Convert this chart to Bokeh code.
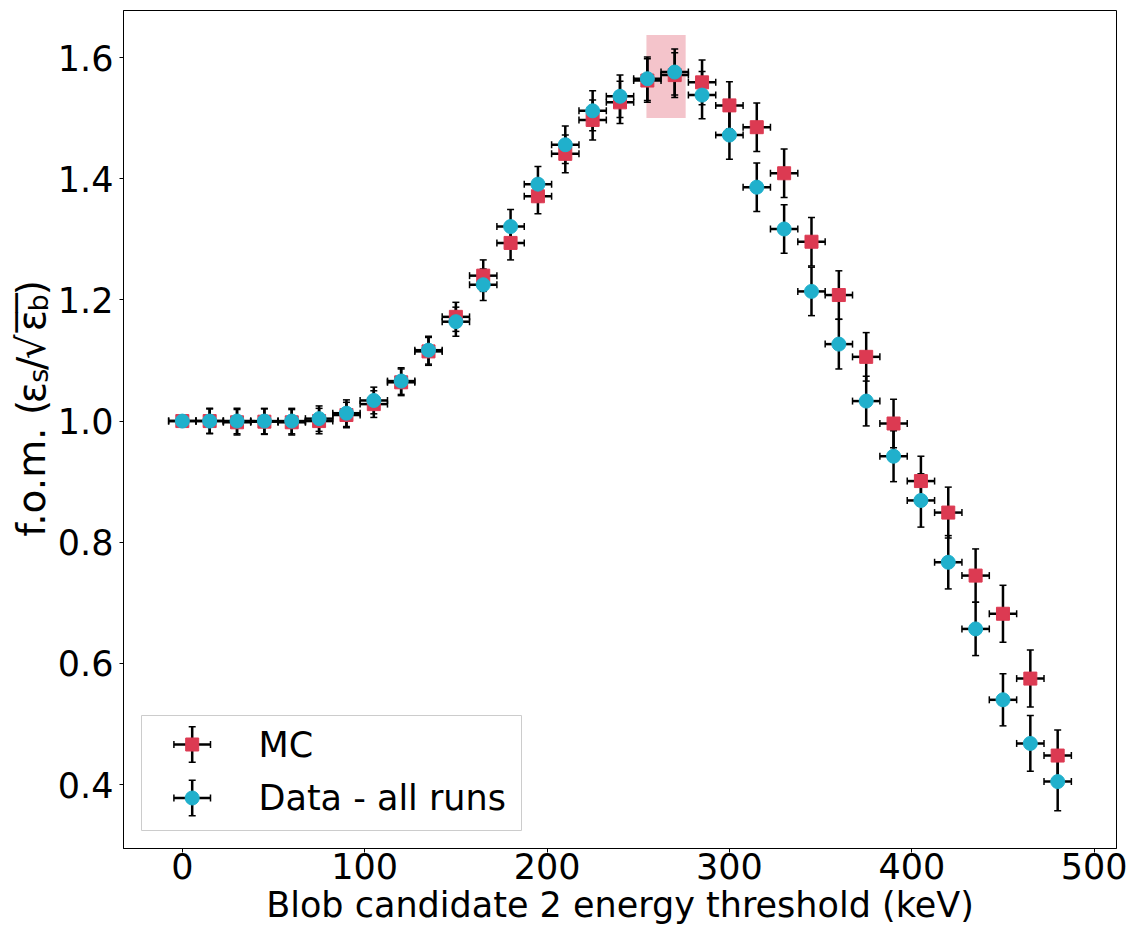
from math import pi
from bokeh.plotting import figure
from bokeh.models import (ColumnDataSource, Whisker, TeeHead, Range1d,
                          FixedTicker, PrintfTickFormatter)
from bokeh.layouts import row
from bokeh.embed import file_html
from bokeh.resources import INLINE
from bokeh.core.properties import value

# ---------------- data ----------------
threshold_kev = [0, 15, 30, 45, 60, 75, 90, 105, 120, 135, 150, 165, 180, 195,
                 210, 225, 240, 255, 270, 285, 300, 315, 330, 345, 360, 375,
                 390, 405, 420, 435, 450, 465, 480]
fom_mc = [1.000, 1.000, 0.998, 0.999, 0.998, 1.000, 1.010, 1.028, 1.064,
          1.115, 1.172, 1.240, 1.294, 1.371, 1.441, 1.497, 1.526, 1.562,
          1.571, 1.559, 1.521, 1.485, 1.409, 1.296, 1.208, 1.106, 0.996,
          0.901, 0.849, 0.745, 0.682, 0.575, 0.448]
fom_mc_err = [0.0, 0.020, 0.021, 0.021, 0.021, 0.021, 0.021, 0.022, 0.022,
              0.023, 0.024, 0.026, 0.028, 0.029, 0.031, 0.033, 0.035, 0.036,
              0.037, 0.037, 0.039, 0.040, 0.040, 0.040, 0.040, 0.040, 0.040,
              0.041, 0.042, 0.044, 0.047, 0.047, 0.042]
fom_data = [1.000, 1.000, 1.000, 1.000, 1.000, 1.004, 1.013, 1.034, 1.066,
            1.117, 1.164, 1.225, 1.321, 1.391, 1.456, 1.512, 1.536, 1.565,
            1.576, 1.538, 1.472, 1.386, 1.317, 1.214, 1.127, 1.033, 0.942,
            0.869, 0.767, 0.657, 0.540, 0.468, 0.405]
fom_data_err = [0.0, 0.021, 0.021, 0.021, 0.021, 0.021, 0.022, 0.022, 0.022,
                0.023, 0.024, 0.026, 0.028, 0.029, 0.031, 0.033, 0.035, 0.036,
                0.038, 0.039, 0.040, 0.040, 0.040, 0.040, 0.041, 0.041, 0.042,
                0.044, 0.044, 0.044, 0.043, 0.046, 0.048]
threshold_half_bin = 7.5
best_cut_x = [254.5, 276.0]
best_cut_y = [1.500, 1.637]
x_ticks = [0, 100, 200, 300, 400, 500]
y_ticks = [0.4, 0.6, 0.8, 1.0, 1.2, 1.4, 1.6]
series_labels = ["MC", "Data - all runs"]
x_label = "Blob candidate 2 energy threshold (keV)"

# ---------------- style ----------------
RED = "#dc3a52"
CYAN = "#20b0cc"
FONT = "DejaVu Sans"
FS = "35px"
FRAME_W, FRAME_H = 993, 838
LABEL_W = 54                  # width of the y-label panel
LEFT, TOP = 120, 10           # canvas position of the frame's top-left


def make_source(y, err):
    return ColumnDataSource(dict(
        x=threshold_kev, y=y,
        ylo=[v - e for v, e in zip(y, err)],
        yhi=[v + e for v, e in zip(y, err)],
        xlo=[v - threshold_half_bin for v in threshold_kev],
        xhi=[v + threshold_half_bin for v in threshold_kev],
    ))


src_mc = make_source(fom_mc, fom_mc_err)
src_data = make_source(fom_data, fom_data_err)

p = figure(frame_width=FRAME_W, frame_height=FRAME_H,
           x_range=Range1d(-32.25, 512.25), y_range=Range1d(0.2946, 1.6776),
           output_backend="svg", toolbar_location=None,
           min_border_left=LEFT - LABEL_W, min_border_right=13,
           min_border_top=TOP, min_border_bottom=82)
p.background_fill_color = "white"
p.border_fill_color = "white"
p.outline_line_color = "black"
p.outline_line_width = 1
p.xgrid.grid_line_color = None
p.ygrid.grid_line_color = None

# highlighted best cut
p.quad(left=[best_cut_x[0]], right=[best_cut_x[1]],
       bottom=[best_cut_y[0]], top=[best_cut_y[1]],
       fill_color=RED, fill_alpha=0.3, line_color=None, level="image")

# error bars
for src in (src_mc, src_data):
    for base, lo, hi, dim in (("x", "ylo", "yhi", "height"),
                              ("y", "xlo", "xhi", "width")):
        w = Whisker(source=src, base=base, lower=lo, upper=hi, dimension=dim,
                    line_color="black", line_width=2.5, level="underlay",
                    upper_head=TeeHead(size=7, line_width=1.5, line_color="black"),
                    lower_head=TeeHead(size=7, line_width=1.5, line_color="black"))
        p.add_layout(w)

p.scatter("x", "y", source=src_mc, marker="square", size=13,
          fill_color=RED, line_color=RED)
p.scatter("x", "y", source=src_data, marker="circle", size=14,
          fill_color=CYAN, line_color=CYAN)

# axes
p.xaxis.ticker = FixedTicker(ticks=x_ticks)
p.yaxis.ticker = FixedTicker(ticks=y_ticks)
p.yaxis.formatter = PrintfTickFormatter(format="%.1f")
for ax in (p.xaxis, p.yaxis):
    ax.major_label_text_font = FONT
    ax.major_label_text_font_size = FS
    ax.major_label_text_color = "black"
    ax.major_tick_out = 4
    ax.major_tick_in = 0
    ax.major_tick_line_color = "black"
    ax.minor_tick_line_color = None
    ax.axis_line_color = "black"
p.xaxis.major_label_standoff = 0
p.yaxis.major_label_standoff = 6
p.xaxis.axis_label = x_label
p.xaxis.axis_label_text_font = FONT
p.xaxis.axis_label_text_font_size = FS
p.xaxis.axis_label_text_font_style = "normal"
p.xaxis.axis_label_text_color = "black"
p.xaxis.axis_label_text_line_height = 1.0
p.xaxis.axis_label_standoff = 3

# pixel space relative to the frame (x from frame left, y from frame bottom)
p.extra_x_ranges = {"px": Range1d(0, FRAME_W)}
p.extra_y_ranges = {"px": Range1d(0, FRAME_H)}


def fx(x):  # canvas x -> frame pixel x
    return x - LEFT


def fy(y):  # canvas y -> frame pixel y
    return TOP + FRAME_H - y


# legend
p.quad(left=[fx(138)], right=[fx(518)], bottom=[fy(830)], top=[fy(715)],
       x_range_name="px", y_range_name="px",
       fill_color="white", fill_alpha=0.8, line_color="#cccccc", line_width=1)
icon_x = fx(188.7)
arm_x, arm_y, cap = 18.3, 17.8, 3.5
for label, color, marker, size, yc in (
        (series_labels[0], RED, "square", 13, fy(744.0)),
        (series_labels[1], CYAN, "circle", 14, fy(797.5))):
    p.segment(x0=[icon_x - arm_x, icon_x], y0=[yc, yc - arm_y],
              x1=[icon_x + arm_x, icon_x], y1=[yc, yc + arm_y],
              line_color="black", line_width=2.5,
              x_range_name="px", y_range_name="px")
    p.segment(x0=[icon_x - arm_x, icon_x + arm_x, icon_x - cap, icon_x - cap],
              y0=[yc - cap, yc - cap, yc - arm_y, yc + arm_y],
              x1=[icon_x - arm_x, icon_x + arm_x, icon_x + cap, icon_x + cap],
              y1=[yc + cap, yc + cap, yc - arm_y, yc + arm_y],
              line_color="black", line_width=1.5,
              x_range_name="px", y_range_name="px")
    p.scatter(x=[icon_x], y=[yc], marker=marker, size=size,
              fill_color=color, line_color=color,
              x_range_name="px", y_range_name="px")
    p.text(x=[fx(255)], y=[yc], text=[label], text_font=value(FONT),
           text_font_size=FS, text_baseline="middle", text_color="black",
           x_range_name="px", y_range_name="px")

# y-axis label: f.o.m. (eps_s / sqrt(eps_b)), composed in its own panel
H = TOP + FRAME_H + 82
q = figure(width=LABEL_W, height=H, x_range=Range1d(0, LABEL_W),
           y_range=Range1d(0, H), output_backend="svg",
           toolbar_location=None, min_border=0,
           x_axis_location=None, y_axis_location=None)
q.outline_line_color = None
q.background_fill_color = "white"
q.border_fill_color = "white"
q.grid.visible = False
MAIN_FS, SUB_FS = 39, 27
BASE = 44            # canvas x of main baseline
SUB_BASE = 47        # canvas x of subscript baseline
pieces = [("f.o.m. (", 584, BASE, MAIN_FS),
          ("\u03b5", 436, BASE, MAIN_FS),
          ("s", 413, SUB_BASE, SUB_FS),
          ("/", 399, BASE, MAIN_FS),
          ("\u221a", 387, BASE, MAIN_FS),
          ("\u203e\u203e", 357, BASE, MAIN_FS),
          ("\u03b5", 356, BASE, MAIN_FS),
          ("b", 334, SUB_BASE, SUB_FS),
          (")", 316, BASE, MAIN_FS)]
for txt, ystart, xb, fs in pieces:
    q.text(x=[xb - 0.346 * fs], y=[H - ystart], text=[txt], angle=pi / 2,
           text_font=value(FONT), text_font_size=f"{fs}px",
           text_align="left", text_baseline="middle", text_color="black")

open("out.html", "w").write(file_html(row(q, p), INLINE))
